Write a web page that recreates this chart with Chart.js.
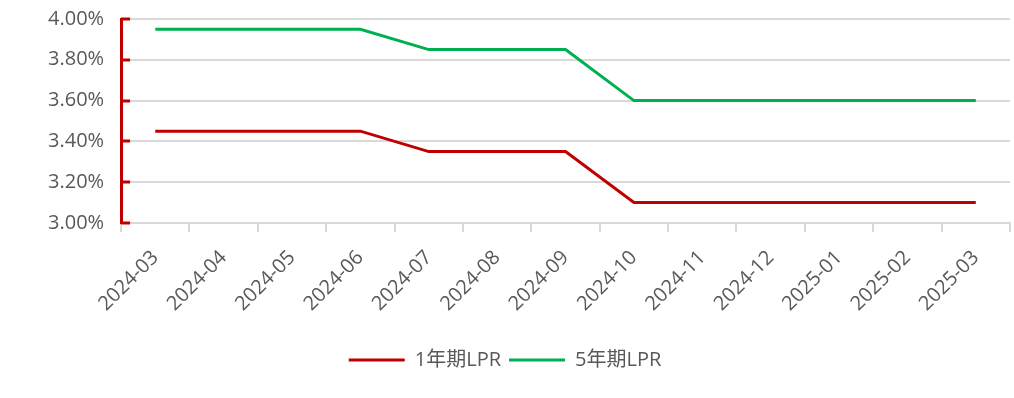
<!DOCTYPE html>
<html>
<head>
<meta charset="utf-8">
<script src="https://cdn.jsdelivr.net/npm/chart.js@4/dist/chart.umd.min.js"></script>
<style>
  html, body { margin: 0; padding: 0; background: #fff; }
  #wrap { width: 1014px; height: 398px; }
</style>
</head>
<body>
<div id="wrap"><canvas id="myChart"></canvas></div>
<script>
const months = [
  "2024-03", "2024-04", "2024-05", "2024-06", "2024-07", "2024-08", "2024-09",
  "2024-10", "2024-11", "2024-12", "2025-01", "2025-02", "2025-03",
];
const lpr1y = [3.45, 3.45, 3.45, 3.45, 3.35, 3.35, 3.35, 3.1, 3.1, 3.1, 3.1, 3.1, 3.1];
const lpr5y = [3.95, 3.95, 3.95, 3.95, 3.85, 3.85, 3.85, 3.6, 3.6, 3.6, 3.6, 3.6, 3.6];
const yTicks = [3.0, 3.2, 3.4, 3.6, 3.8, 4.0];

const red = "#c00000";
const green = "#00b050";
const textColor = "#595959";
const fontFamily = "'Open Sans', 'Noto Sans CJK SC', sans-serif";

// short inward tick marks on the red y axis
const innerTicks = {
  id: "innerTicks",
  afterDraw(chart) {
    const y = chart.scales.y;
    const ctx = chart.ctx;
    ctx.save();
    ctx.strokeStyle = red;
    ctx.lineWidth = 3;
    y.ticks.forEach((t) => {
      const py = Math.round(y.getPixelForValue(t.value));
      ctx.beginPath();
      ctx.moveTo(y.right, py);
      ctx.lineTo(y.right + 9, py);
      ctx.stroke();
    });
    ctx.restore();
  },
};

new Chart("myChart", {
  type: "line",
  data: {
    labels: months,
    datasets: [
      {
        label: "1年期LPR",
        data: lpr1y,
        borderColor: red,
        backgroundColor: red,
        borderWidth: 3,
        pointRadius: 0,
        pointStyle: "line",
        tension: 0,
      },
      {
        label: "5年期LPR",
        data: lpr5y,
        borderColor: green,
        backgroundColor: green,
        borderWidth: 3,
        pointRadius: 0,
        pointStyle: "line",
        tension: 0,
      },
    ],
  },
  options: {
    responsive: true,
    maintainAspectRatio: false,
    animation: false,
    layout: { padding: { left: 0, right: 4, top: 0, bottom: 18 } },
    plugins: {
      tooltip: { enabled: false },
      legend: {
        position: "bottom",
        labels: {
          usePointStyle: true,
          pointStyleWidth: 56,
          color: textColor,
          padding: 8,
          font: { family: fontFamily, size: 20 },
        },
      },
    },
    scales: {
      x: {
        offset: true,
        afterFit(scale) {
          scale.height += 12;
        },
        grid: {
          offset: true,
          drawOnChartArea: false,
          drawTicks: true,
          tickLength: 9,
          color: "#d9d9d9",
          lineWidth: 2,
        },
        border: { color: "#d9d9d9", width: 2 },
        ticks: {
          color: textColor,
          maxRotation: 45,
          minRotation: 45,
          padding: 14,
          font: { family: fontFamily, size: 20 },
        },
      },
      y: {
        min: 3.0,
        max: 4.0,
        afterFit(scale) {
          scale.width += 31;
          scale.paddingTop = 19;
        },
        afterBuildTicks(axis) {
          axis.ticks = yTicks.map((v) => ({ value: v }));
        },
        grid: { color: "#d9d9d9", lineWidth: 2, drawTicks: false },
        border: { color: red, width: 3 },
        ticks: {
          color: textColor,
          padding: 17,
          font: { family: fontFamily, size: 20 },
          callback: (v) => Number(v).toFixed(2) + "%",
        },
      },
    },
  },
  plugins: [innerTicks],
});
</script>
</body>
</html>
